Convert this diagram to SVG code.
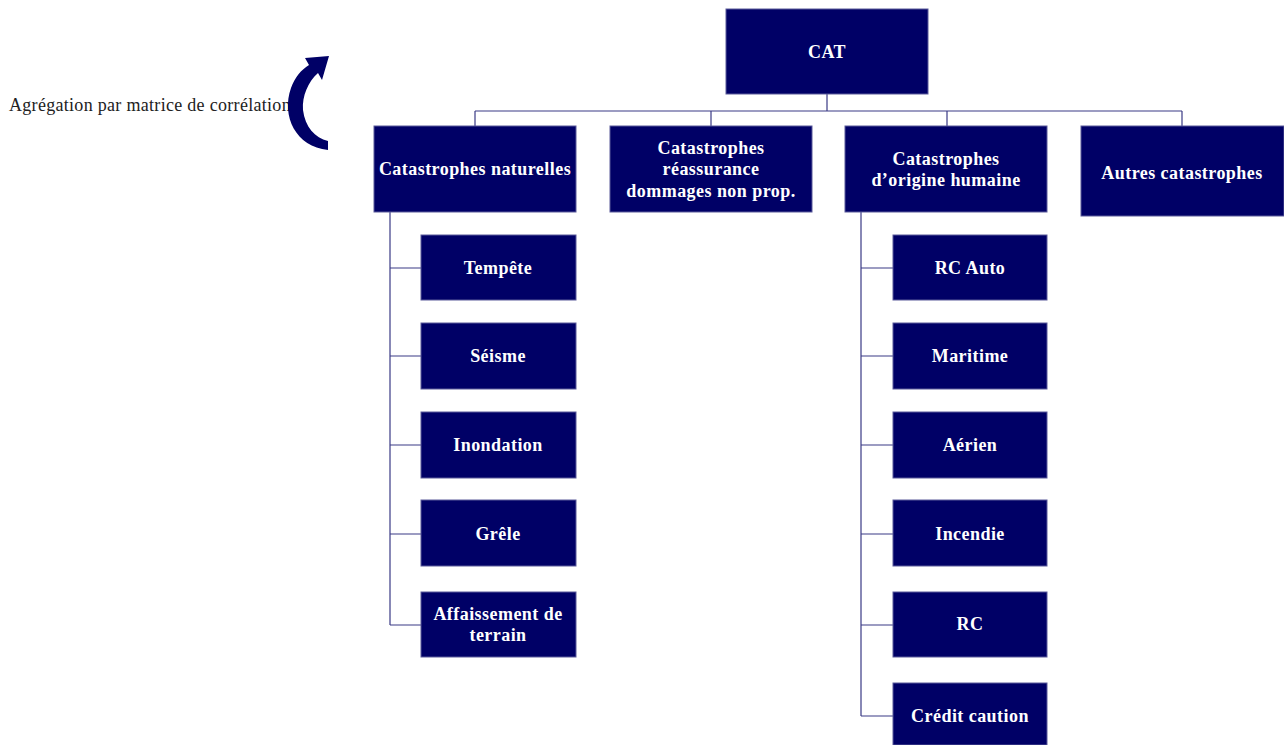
<svg xmlns="http://www.w3.org/2000/svg" width="1284" height="745" viewBox="0 0 1284 745">
<style>
.box{fill:#000066;stroke:#5a5a9a;stroke-width:1}
.t{font-family:"Liberation Serif","DejaVu Serif",serif;font-weight:bold;font-size:18px;fill:#ffffff;text-anchor:middle;letter-spacing:0.45px}
.c{fill:none;stroke:#3a3a85;stroke-width:1.2}
.lab{font-family:"Liberation Serif","DejaVu Serif",serif;font-size:18px;fill:#222222;letter-spacing:0.3px}
</style>
<rect width="1284" height="745" fill="#ffffff"/>
<g id="connectors">
<path class="c" d="M827,94V111M475,111H1182M475,111V126M711,111V126M947,111V126M1182,111V126"/>
<path class="c" d="M390,212V625M390,268H421M390,356H421M390,445H421M390,534H421M390,625H421"/>
<path class="c" d="M861,212V716M861,268H893M861,356H893M861,445H893M861,534H893M861,625H893M861,716H893"/>
</g>
<g id="label">
<text class="lab" x="9" y="111">Agrégation par matrice de corrélation</text>
</g>
<g id="arrow">
<path fill="#000066" d="M328,150 C296,147 281,116 291,88 C295,77 301,70 309,65 L305,58 L329,56 L322,80 L318,73 C308,82 302,96 303,110 C305,127 315,138 328,141 Z"/>
</g>
<g id="n-cat"><rect class="box" x="726" y="9" width="202" height="85"/><text class="t" x="827" y="58">CAT</text></g>
<g id="n-nat"><rect class="box" x="374" y="126" width="202" height="86"/><text class="t" x="475" y="175">Catastrophes naturelles</text></g>
<g id="n-reas"><rect class="box" x="610" y="126" width="202" height="86"/><text class="t" x="711" y="154">Catastrophes</text><text class="t" x="711" y="175">réassurance</text><text class="t" x="711" y="197">dommages non prop.</text></g>
<g id="n-hum"><rect class="box" x="845" y="126" width="202" height="86"/><text class="t" x="946" y="165">Catastrophes</text><text class="t" x="946" y="186">d’origine humaine</text></g>
<g id="n-autres"><rect class="box" x="1081" y="126" width="203" height="90"/><text class="t" x="1182" y="179">Autres catastrophes</text></g>
<g id="n-tempete"><rect class="box" x="421" y="235" width="155" height="65"/><text class="t" x="498" y="274">Tempête</text></g>
<g id="n-seisme"><rect class="box" x="421" y="323" width="155" height="66"/><text class="t" x="498" y="362">Séisme</text></g>
<g id="n-inond"><rect class="box" x="421" y="412" width="155" height="66"/><text class="t" x="498" y="451">Inondation</text></g>
<g id="n-grele"><rect class="box" x="421" y="500" width="155" height="66"/><text class="t" x="498" y="540">Grêle</text></g>
<g id="n-affais"><rect class="box" x="421" y="592" width="155" height="65"/><text class="t" x="498" y="620">Affaissement de</text><text class="t" x="498" y="641">terrain</text></g>
<g id="n-rcauto"><rect class="box" x="893" y="235" width="154" height="65"/><text class="t" x="970" y="274">RC Auto</text></g>
<g id="n-marit"><rect class="box" x="893" y="323" width="154" height="66"/><text class="t" x="970" y="362">Maritime</text></g>
<g id="n-aerien"><rect class="box" x="893" y="412" width="154" height="66"/><text class="t" x="970" y="451">Aérien</text></g>
<g id="n-incendie"><rect class="box" x="893" y="500" width="154" height="66"/><text class="t" x="970" y="540">Incendie</text></g>
<g id="n-rc"><rect class="box" x="893" y="592" width="154" height="65"/><text class="t" x="970" y="630">RC</text></g>
<g id="n-credit"><rect class="box" x="893" y="683" width="154" height="62"/><text class="t" x="970" y="722">Crédit caution</text></g>
</svg>
